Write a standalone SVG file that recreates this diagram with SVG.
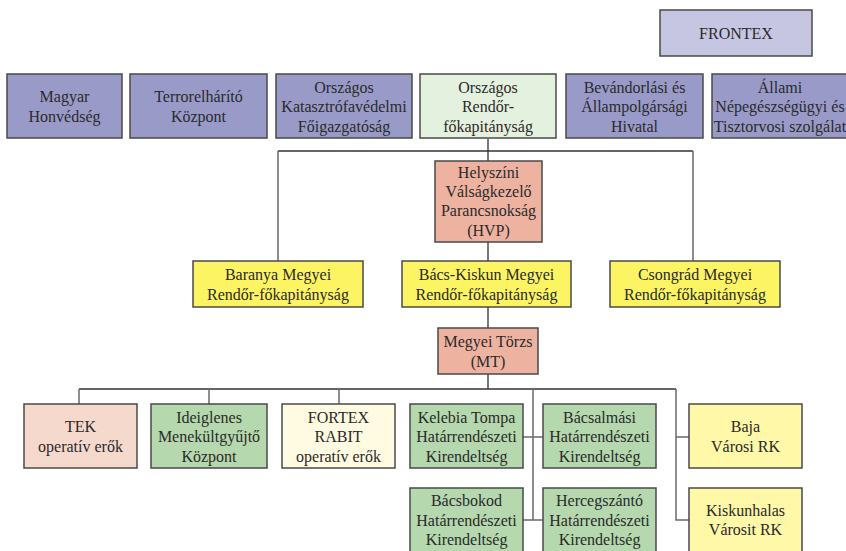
<svg xmlns="http://www.w3.org/2000/svg" width="846" height="551" viewBox="0 0 846 551">
<style>
.b{stroke:#4a4a4a;stroke-width:1.5}
.p{fill:#9a9ac8}.lp{fill:#c6c6e3}.lg{fill:#e4f1de}.s{fill:#eeb3a0}.y{fill:#fdf463}.t{fill:#f6d9cd}.g{fill:#b5d8ae}.c{fill:#fffbe2}.ly{fill:#fff8a8}
text{font-family:"Liberation Serif","Times New Roman",serif;font-size:16px;fill:#2a2a2a;text-anchor:middle}
.l{fill:none;stroke:#333;stroke-width:1.3}
.lg2{fill:none;stroke:#6a6a6a;stroke-width:1.5}
</style>
<rect width="846" height="551" fill="#fff"/>
<g id="connectors">
<path class="l" d="M488 139V161M278 151H693M488 242V261M488 307V328M488 374V389M79 389H676"/>
<path class="lg2" d="M278 151V261M693 151V261M79 389V404M209 389V404M339 389V404M533 389V520M523 437H543M523 520H543M676 389V520H689M676 437H689"/>
</g>
<g id="frontex"><rect class="b lp" x="660" y="10" width="152" height="46"/><text x="736" y="39">FRONTEX</text></g>
<g id="honvedseg"><rect class="b p" x="7" y="74" width="115" height="64"/><text x="64.5" y="102">Magyar</text><text x="64.5" y="121.5">Honvédség</text></g>
<g id="tek-kozpont"><rect class="b p" x="130" y="74" width="137" height="64"/><text x="198.5" y="102">Terrorelhárító</text><text x="198.5" y="121.5">Központ</text></g>
<g id="okf"><rect class="b p" x="276" y="74" width="136" height="64"/><text x="344" y="92.5">Országos</text><text x="344" y="112">Katasztrófavédelmi</text><text x="344" y="131.5">Főigazgatóság</text></g>
<g id="orfk"><rect class="b lg" x="420" y="74" width="136" height="64"/><text x="488" y="92.5">Országos</text><text x="488" y="112">Rendőr-</text><text x="488" y="131.5">főkapitányság</text></g>
<g id="bah"><rect class="b p" x="566" y="74" width="137" height="64"/><text x="634.5" y="92.5">Bevándorlási és</text><text x="634.5" y="112">Állampolgársági</text><text x="634.5" y="131.5">Hivatal</text></g>
<g id="antsz"><rect class="b p" x="712" y="74" width="138" height="64"/><text x="780" y="92.5">Állami</text><text x="780" y="112">Népegészségügyi és</text><text x="780" y="131.5">Tisztorvosi szolgálat</text></g>
<g id="hvp"><rect class="b s" x="435" y="161" width="107" height="81"/><text x="488.5" y="177.5">Helyszíni</text><text x="488.5" y="197">Válságkezelő</text><text x="488.5" y="216">Parancsnokság</text><text x="488.5" y="235.5">(HVP)</text></g>
<g id="baranya"><rect class="b y" x="193" y="261" width="170" height="46"/><text x="278" y="280">Baranya Megyei</text><text x="278" y="299.5">Rendőr-főkapitányság</text></g>
<g id="bacs-kiskun"><rect class="b y" x="402" y="261" width="169" height="46"/><text x="486.5" y="280">Bács-Kiskun Megyei</text><text x="486.5" y="299.5">Rendőr-főkapitányság</text></g>
<g id="csongrad"><rect class="b y" x="610" y="261" width="170" height="46"/><text x="695" y="280">Csongrád Megyei</text><text x="695" y="299.5">Rendőr-főkapitányság</text></g>
<g id="mt"><rect class="b s" x="438" y="328" width="100" height="46"/><text x="488" y="347">Megyei Törzs</text><text x="488" y="366.5">(MT)</text></g>
<g id="tek"><rect class="b t" x="24" y="404" width="113" height="64"/><text x="80.5" y="432">TEK</text><text x="80.5" y="451.5">operatív erők</text></g>
<g id="ideiglenes"><rect class="b g" x="151" y="404" width="116" height="64"/><text x="209" y="422.5">Ideiglenes</text><text x="209" y="442">Menekültgyűjtő</text><text x="209" y="461.5">Központ</text></g>
<g id="fortex"><rect class="b c" x="282" y="404" width="113" height="64"/><text x="338.5" y="422.5">FORTEX</text><text x="338.5" y="442">RABIT</text><text x="338.5" y="461.5">operatív erők</text></g>
<g id="kelebia"><rect class="b g" x="410" y="404" width="113" height="64"/><text x="466.5" y="422.5">Kelebia Tompa</text><text x="466.5" y="442">Határrendészeti</text><text x="466.5" y="461.5">Kirendeltség</text></g>
<g id="bacsalmas"><rect class="b g" x="543" y="404" width="113" height="64"/><text x="599.5" y="422.5">Bácsalmási</text><text x="599.5" y="442">Határrendészeti</text><text x="599.5" y="461.5">Kirendeltség</text></g>
<g id="baja"><rect class="b ly" x="689" y="404" width="113" height="64"/><text x="745.5" y="432">Baja</text><text x="745.5" y="451.5">Városi RK</text></g>
<g id="bacsbokod"><rect class="b g" x="410" y="488" width="113" height="70"/><text x="466.5" y="506">Bácsbokod</text><text x="466.5" y="525.5">Határrendészeti</text><text x="466.5" y="545">Kirendeltség</text></g>
<g id="hercegszanto"><rect class="b g" x="543" y="488" width="113" height="70"/><text x="599.5" y="506">Hercegszántó</text><text x="599.5" y="525.5">Határrendészeti</text><text x="599.5" y="545">Kirendeltség</text></g>
<g id="kiskunhalas"><rect class="b ly" x="689" y="488" width="113" height="70"/><text x="745.5" y="515.5">Kiskunhalas</text><text x="745.5" y="535">Városit RK</text></g>
</svg>
